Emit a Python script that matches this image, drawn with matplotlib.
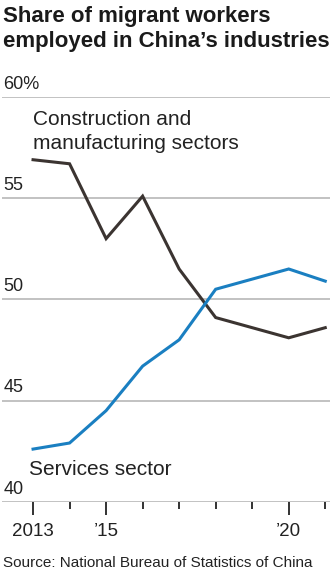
import numpy as np
import matplotlib
matplotlib.use("Agg")
import matplotlib.pyplot as plt

years = [2013, 2014, 2015, 2016, 2017, 2018, 2019, 2020, 2021]
construction = [56.9, 56.7, 53.0, 55.1, 51.5, 49.1, 48.6, 48.1, 48.6]
services = [42.6, 42.9, 44.5, 46.7, 48.0, 50.5, 51.0, 51.5, 50.9]
yticks = [40, 45, 50, 55, 60]
ytick_labels = ['40', '45', '50', '55', '60%']
xtick_major = [2013, 2015, 2020]
xtick_labels = ['2013', '\u201915', '\u201920']

plt.rcParams['font.family'] = ['Liberation Sans', 'DejaVu Sans']

dark = '#3b3431'
blue = '#1a7fc1'
grid = '#bdbdbd'
txt = '#222222'

fig = plt.figure(figsize=(3.32, 5.75), dpi=100)
ax = fig.add_axes([2/332, (575-501.7)/575, 328/332, (501.7-97)/575])

ax.plot(years, construction, color=dark, lw=2.2, solid_joinstyle='miter', zorder=3)
ax.plot(years, services, color=blue, lw=2.2, solid_joinstyle='miter', zorder=3)

ax.set_xlim(2012.15, 2021.13)
ax.set_ylim(40, 60)
for v in yticks:
    ax.axhline(v, color=grid, lw=1.3, zorder=1)
for v, lab in zip(yticks, ytick_labels):
    ax.annotate(lab, (0, v), xycoords=('axes fraction', 'data'),
                xytext=(1, 3), textcoords='offset points',
                ha='left', va='bottom', fontsize=13, color=txt)

for s in ax.spines.values():
    s.set_visible(False)
ax.set_yticks([])
ax.set_xticks(years, minor=True)
ax.set_xticks(xtick_major)
ax.set_xticklabels(xtick_labels, fontsize=13.5, color=txt)
ax.tick_params(axis='x', which='major', length=9, width=1.3, color=txt, pad=6)
ax.tick_params(axis='x', which='minor', length=5, width=1.3, color=txt)

ax.text(2012.99, 57.41, 'Construction and\nmanufacturing sectors', fontsize=15,
        color=txt, ha='left', va='baseline', linespacing=1.36)
ax.text(2012.88, 41.33, 'Services sector', fontsize=15, color=txt,
        ha='left', va='baseline')

fig.text(3/332, 1 - 6/575, 'Share of migrant workers\nemployed in China\u2019s industries',
         fontsize=16, fontweight='bold', color='#1a1a1a', ha='left', va='top',
         linespacing=1.25)
fig.text(3/332, 1 - 563/575, 'Source: National Bureau of Statistics of China',
         fontsize=11, color=txt, ha='left', va='center')

fig.savefig('out.png', dpi=100)
